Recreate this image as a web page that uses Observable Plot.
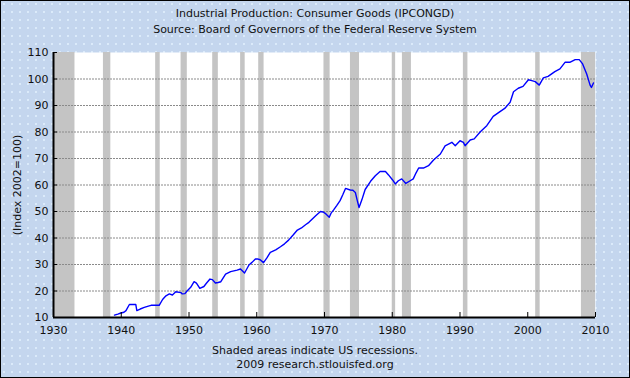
<!DOCTYPE html>
<html><head><meta charset="utf-8">
<script src="https://cdn.jsdelivr.net/npm/d3@7"></script>
<script src="https://cdn.jsdelivr.net/npm/@observablehq/plot@0.6"></script>
<style>
body{margin:0;background:#fff;}
#chart{position:relative;width:630px;height:378px;overflow:hidden;
  background-color:#c4d6ee;
  background-image:radial-gradient(circle, #e4f2ff 0.6px, transparent 1px);
  background-size:8px 8px;
  font-family:"DejaVu Sans",Verdana,sans-serif;color:#111;}
#frame{position:absolute;left:0;top:0;width:630px;height:378px;box-sizing:border-box;border:1px solid #000;pointer-events:none;}
.t{position:absolute;left:0;width:630px;text-align:center;font-size:11px;line-height:14px;white-space:nowrap;}
#chart svg{position:absolute;left:0;top:0;}
</style></head>
<body>
<div id="chart">
  <div class="t" style="top:7px">Industrial Production: Consumer Goods (IPCONGD)</div>
  <div class="t" style="top:23px">Source: Board of Governors of the Federal Reserve System</div>
  <div class="t" style="top:344px">Shaded areas indicate US recessions.</div>
  <div class="t" style="top:358px">2009 research.stlouisfed.org</div>
  <div id="frame"></div>
</div>
<script>
const title = "Industrial Production: Consumer Goods (IPCONGD)";
const yLabel = "(Index 2002=100)";
const xTicks = [1930, 1940, 1950, 1960, 1970, 1980, 1990, 2000, 2010];
const yTicks = [10, 20, 30, 40, 50, 60, 70, 80, 90, 100, 110];
const gridValues = [20, 30, 40, 50, 60, 70, 80, 90, 100];

// recessions (decimal years)
const recStart = [1930, 1937.37, 1945.08, 1948.83, 1953.5, 1957.62, 1960.29, 1969.92, 1973.83, 1980.0, 1981.5, 1990.5, 2001.17, 2007.92];
const recEnd   = [1933.17, 1938.46, 1945.75, 1949.75, 1954.33, 1958.29, 1961.08, 1970.83, 1975.17, 1980.5, 1982.83, 1991.17, 2001.83, 2010];

// series
const years = [1939.0,1939.5,1939.94,1940.4,1940.7,1941.2,1942.15,1942.3,1942.8,1943.4,1944.0,1944.4,1945.0,1945.6,1946.1,1946.6,1947.1,1947.55,1948.05,1948.8,1949.0,1949.4,1949.75,1950.25,1950.75,1951.1,1951.6,1952.2,1952.6,1953.1,1953.45,1953.9,1954.3,1954.7,1955.4,1956.15,1957.1,1957.6,1958.2,1958.85,1959.3,1959.8,1960.1,1960.5,1961.0,1961.5,1962.0,1962.8,1963.5,1964.1,1964.7,1965.4,1966.0,1966.6,1967.2,1967.7,1968.2,1968.7,1969.4,1969.8,1970.1,1970.7,1971.0,1971.35,1971.8,1972.3,1972.7,1973.1,1973.8,1974.2,1974.55,1974.85,1975.1,1975.5,1976.0,1976.8,1977.5,1978.2,1979.0,1979.45,1980.05,1980.45,1980.9,1981.4,1982.0,1982.65,1983.1,1983.5,1983.9,1984.6,1985.35,1986.1,1987.1,1987.8,1988.8,1989.3,1990.0,1990.5,1990.75,1991.5,1992.1,1993.0,1993.95,1994.9,1995.9,1996.6,1997.4,1997.9,1998.6,1999.3,2000.1,2000.6,2001.1,2001.7,2002.3,2003.0,2004.0,2004.75,2005.5,2006.2,2007.0,2007.6,2008.1,2008.7,2009.2,2009.4,2009.7];
const values = [10.9,11.3,11.7,12.0,12.6,14.9,14.9,12.6,13.2,13.8,14.3,14.6,14.6,14.6,16.8,18.2,18.9,18.5,19.7,19.4,18.9,19.0,20.1,21.4,23.5,23.0,21.0,21.7,23.0,24.5,24.3,23.0,23.2,23.5,26.4,27.3,27.9,28.3,26.8,29.8,30.8,32.1,32.1,31.8,30.7,32.5,34.6,35.5,36.7,37.8,39.2,41.2,43.0,43.8,45.0,45.9,47.2,48.4,50.0,49.8,49.3,47.8,49.5,50.6,52.2,54.1,56.3,58.7,58.1,58.0,57.2,54.0,51.5,54.3,58.3,61.4,63.5,65.1,65.1,63.8,61.9,60.4,61.6,62.3,60.6,61.6,62.3,64.5,66.4,66.4,67.3,69.4,71.7,74.8,76.1,74.8,76.7,76.1,74.8,77.0,77.4,80.1,82.4,85.9,87.7,88.9,91.2,95.2,96.5,97.2,99.7,99.4,99.0,97.7,100.4,101.0,102.8,103.8,106.3,106.3,107.3,107.3,105.7,101.9,97.7,96.8,98.5];

const series = years.map((t, i) => ({t, v: values[i]}));
const recessions = recStart.map((s, i) => ({s, e: recEnd[i]}));

const plot = Plot.plot({
  width: 630, height: 378,
  marginTop: 52, marginBottom: 61, marginLeft: 53, marginRight: 35,
  style: {background: "transparent", fontFamily: "DejaVu Sans, Verdana, sans-serif", fontSize: "11px", color: "#111", overflow: "visible"},
  x: {domain: [1930, 2010]},
  y: {domain: [10, 110]},
  marks: [
    Plot.frame({fill: "white", stroke: null}),
    Plot.rectY(recessions, {x1: "s", x2: "e", y1: 10, y2: 110, fill: "#c4c4c4"}),
    Plot.ruleY(gridValues, {stroke: "#8a8a8a", strokeWidth: 1, strokeDasharray: "2,1"}),
    Plot.line(series, {x: "t", y: "v", stroke: "#0000ff", strokeWidth: 1.4}),
    Plot.axisX({ticks: xTicks, tickFormat: d => String(d), tickSize: -5, tickPadding: 14, label: null, stroke: "#000"}),
    Plot.axisY({ticks: yTicks, tickSize: -4, tickPadding: 9, label: yLabel, labelAnchor: "center", labelArrow: "none", labelOffset: 40, stroke: "#000"}),
    Plot.ruleY([10], {stroke: "#000", strokeWidth: 2}),
    Plot.ruleX([1930], {stroke: "#000", strokeWidth: 2})
  ]
});
document.getElementById("chart").insertBefore(plot, document.getElementById("frame"));
</script>
</body></html>
